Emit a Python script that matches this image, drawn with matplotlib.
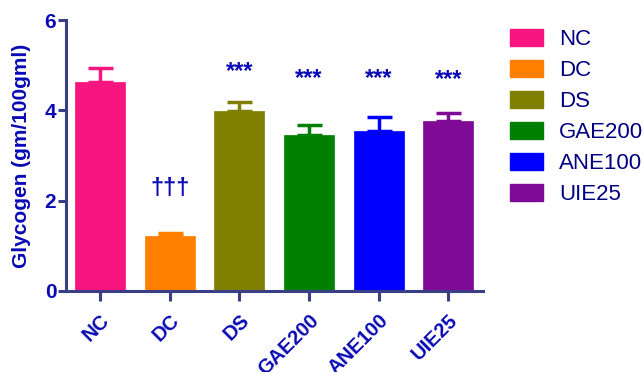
import matplotlib
matplotlib.use("Agg")
import matplotlib.pyplot as plt
from matplotlib.patches import Patch

groups = ["NC", "DC", "DS", "GAE200", "ANE100", "UIE25"]
means = [4.63, 1.22, 3.98, 3.45, 3.54, 3.76]
errors = [0.30, 0.06, 0.20, 0.22, 0.31, 0.18]
colors = ["#F7157F", "#FF8000", "#808000", "#008000", "#0000FF", "#7F0A95"]
annotations = ["", "†††", "***", "***", "***", "***"]
annot_y = [0, 2.28, 4.87, 4.71, 4.71, 4.69]

plt.rcParams['font.family'] = ['Liberation Sans', 'DejaVu Sans']
txt = "#0A0AB4"
axc = "#3A3F85"

fig = plt.figure(figsize=(6.43, 3.72), dpi=100)
ax = fig.add_axes([66/643, (372-291)/372, (483-66)/643, (291-20)/372])

x = list(range(len(groups)))
for i in x:
    ax.bar(i, means[i], width=0.72, color=colors[i], edgecolor=colors[i], linewidth=0.5, zorder=2)
    ax.errorbar(i, means[i], yerr=[[0], [errors[i]]], fmt='none', ecolor=colors[i],
                elinewidth=2.5, capsize=9, capthick=2.5, zorder=1)
    if annotations[i]:
        ax.text(i, annot_y[i], annotations[i], ha='center', va='center',
                color=txt, fontsize=17, fontweight='bold')

ax.set_xlim(-0.49, 5.50)
ax.set_ylim(0, 6)
ax.set_yticks([0, 2, 4, 6])
ax.set_xticks(x)
ax.set_xticklabels(groups, rotation=45, ha='right', rotation_mode='anchor')
for lab in ax.get_xticklabels():
    lab.set_fontweight('bold')
    lab.set_color(txt)
    lab.set_fontsize(14.5)
for lab in ax.get_yticklabels():
    lab.set_fontweight('bold')
    lab.set_color(txt)
    lab.set_fontsize(15)
ax.spines['top'].set_visible(False)
ax.spines['right'].set_visible(False)
for s in ['left', 'bottom']:
    ax.spines[s].set_color(axc)
    ax.spines[s].set_linewidth(2.2)
ax.tick_params(axis='x', length=7, width=2.2, color=axc, pad=7)
ax.tick_params(axis='y', length=6, width=2.2, color=axc, pad=1)
ax.set_ylabel("Glycogen (gm/100gml)", fontsize=15, fontweight='bold', color=txt, labelpad=10)

handles = [Patch(facecolor=c, edgecolor=c) for c in colors]
leg = fig.legend(handles, groups, loc='upper left', bbox_to_anchor=(510/643, 1 - 29/372),
                 frameon=False, fontsize=16, handlelength=1.5, handleheight=0.8,
                 labelspacing=0.44, handletextpad=0.7, borderaxespad=0, borderpad=0)
for t in leg.get_texts():
    t.set_color("#000080")

fig.savefig("out.png", dpi=100)
